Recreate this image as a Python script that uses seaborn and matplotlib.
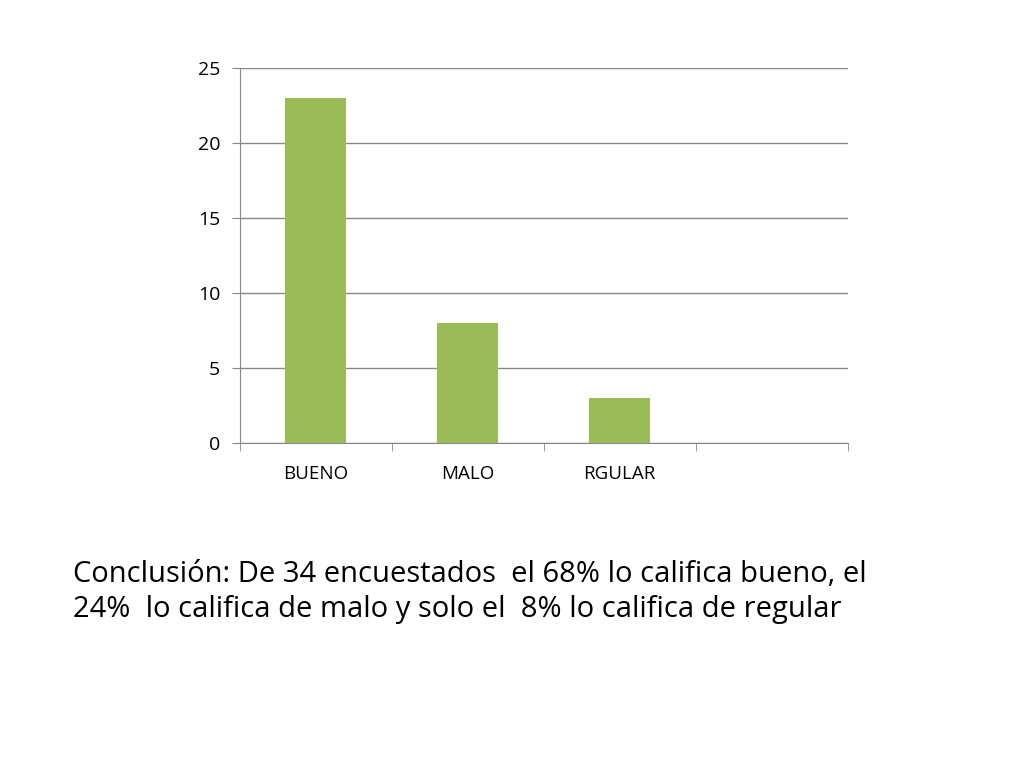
import matplotlib
matplotlib.use("Agg")
import matplotlib.pyplot as plt
import seaborn as sns
import pandas as pd
from matplotlib.ticker import FixedLocator

categories = ["BUENO", "MALO", "RGULAR"]
values = [23, 8, 3]
n_slots = 4  # the chart reserves a fourth, empty category slot

df = pd.DataFrame({"cat": categories, "val": values})

plt.rcParams["font.family"] = "Open Sans"
fig = plt.figure(figsize=(10.24, 7.68), dpi=100)
ax = fig.add_axes([0.234, 0.423, 0.594, 0.488])

sns.barplot(data=df, x="cat", y="val", color="#9BBB59", width=0.4,
            saturation=1, ax=ax, zorder=3)

ax.set_xlim(-0.5, n_slots - 0.5)
ax.set_ylim(0, 25)
ax.set_yticks(range(0, 26, 5))
ax.set_xlabel("")
ax.set_ylabel("")

ax.grid(axis="y", color="#888888", linewidth=1, zorder=0)
for s in ["top", "right"]:
    ax.spines[s].set_visible(False)
for s in ["left", "bottom"]:
    ax.spines[s].set_color("#888888")

# separators between category slots
ax.xaxis.set_minor_locator(FixedLocator([i - 0.5 for i in range(n_slots + 1)]))
ax.tick_params(axis="x", which="major", length=0, pad=16, labelsize=13.5)
ax.tick_params(axis="x", which="minor", length=6, color="#888888")
ax.tick_params(axis="y", length=6, color="#888888", labelsize=14, pad=8)

fig.text(0.071, 0.229,
         "Conclusión: De 34 encuestados  el 68% lo califica bueno, el\n"
         "24%  lo califica de malo y solo el  8% lo califica de regular",
         fontsize=21, linespacing=1.25, va="center", ha="left")

fig.savefig("out.png", dpi=100)
